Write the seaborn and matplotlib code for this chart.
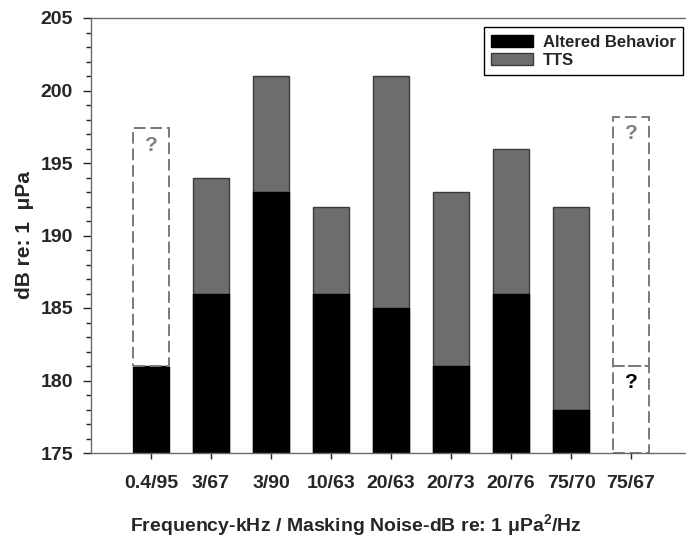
import numpy as np
import pandas as pd
import matplotlib
matplotlib.use("Agg")
import matplotlib.pyplot as plt
from matplotlib.ticker import MultipleLocator
import seaborn as sns

# data
categories = ["0.4/95", "3/67", "3/90", "10/63", "20/63", "20/73", "20/76", "75/70", "75/67"]
altered = [181, 186, 193, 186, 185, 181, 186, 178, np.nan]
tts = [np.nan, 194, 201, 192, 201, 193, 196, 192, np.nan]

# uncertain ranges (dashed boxes marked with "?")
q_cats = ["0.4/95", "75/67", "75/67"]
q_bottom = [181, 181, 175]
q_top = [197.4, 198.2, 181]
q_colors = ["#808080", "#808080", "black"]

sns.set_style("ticks")
plt.rcParams["font.family"] = ["Liberation Sans", "DejaVu Sans"]
plt.rcParams["font.weight"] = "bold"
plt.rcParams["mathtext.fontset"] = "custom"
plt.rcParams["mathtext.rm"] = "Liberation Sans:bold"
plt.rcParams["mathtext.it"] = "Liberation Sans:bold"
plt.rcParams["mathtext.bf"] = "Liberation Sans:bold"

df = pd.DataFrame({"cat": categories, "altered": altered, "tts": tts})

fig = plt.figure(figsize=(6.86, 5.45), dpi=100)
ax = fig.add_axes([91 / 686, 92 / 545, 600 / 686, 435 / 545])

bw = 0.61
sns.barplot(data=df.dropna(subset=["tts"]), x="cat", y="tts", order=categories,
            color="#6d6d6d", edgecolor="#3a3a3a", linewidth=1.0, width=bw,
            saturation=1, label="TTS", ax=ax)
sns.barplot(data=df.dropna(subset=["altered"]), x="cat", y="altered", order=categories,
            color="black", edgecolor="black", linewidth=1.0, width=bw,
            saturation=1, label="Altered Behavior", ax=ax)

# dashed "?" boxes
for c, lo, hi, tc in zip(q_cats, q_bottom, q_top, q_colors):
    p = categories.index(c)
    ax.bar(p, hi - lo, bottom=lo, width=bw, fill=False, edgecolor="#7a7a7a",
           linestyle=(0, (6, 2.5)), linewidth=1.4)
    ax.text(p, hi - 1.17, "?", ha="center", va="center", fontsize=15,
            fontweight="bold", color=tc)

ax.set_xlim(-1, 9)
ax.set_ylim(175, 205)
ax.yaxis.set_major_locator(MultipleLocator(5))
ax.yaxis.set_minor_locator(MultipleLocator(1))
ax.tick_params(axis="y", which="major", direction="out", length=6, width=1,
               labelsize=14, pad=7, color="#222222")
ax.tick_params(axis="y", which="minor", direction="out", length=3.5, width=1,
               color="#222222")
ax.tick_params(axis="x", direction="out", length=4, width=1, labelsize=14,
               pad=12, color="#222222")
for lab in ax.get_xticklabels() + ax.get_yticklabels():
    lab.set_fontweight("bold")

for s in ax.spines.values():
    s.set_visible(True)
    s.set_color("#6a6a6a")
    s.set_linewidth(1.0)

ax.set_ylabel("dB re: 1  μPa", fontsize=15, fontweight="bold")
ax.yaxis.set_label_coords(-0.095, 0.5)
ax.set_xlabel("Frequency-kHz / Masking Noise-dB re: 1 μPa$^{2}$/Hz",
              fontsize=14, fontweight="bold")
ax.xaxis.set_label_coords(0.442, -0.135)

handles, labels = ax.get_legend_handles_labels()
order = [labels.index("Altered Behavior"), labels.index("TTS")]
leg = ax.legend([handles[i] for i in order], [labels[i] for i in order],
                loc="upper right", bbox_to_anchor=(0.987, 0.979), borderaxespad=0,
                fancybox=False, framealpha=1, edgecolor="black", fontsize=12,
                handlelength=2.5, handleheight=0.7, handletextpad=0.6,
                borderpad=0.45, labelspacing=0.2)
leg.get_frame().set_linewidth(1.0)
for t in leg.get_texts():
    t.set_fontweight("bold")

fig.savefig("out.png", dpi=100)
